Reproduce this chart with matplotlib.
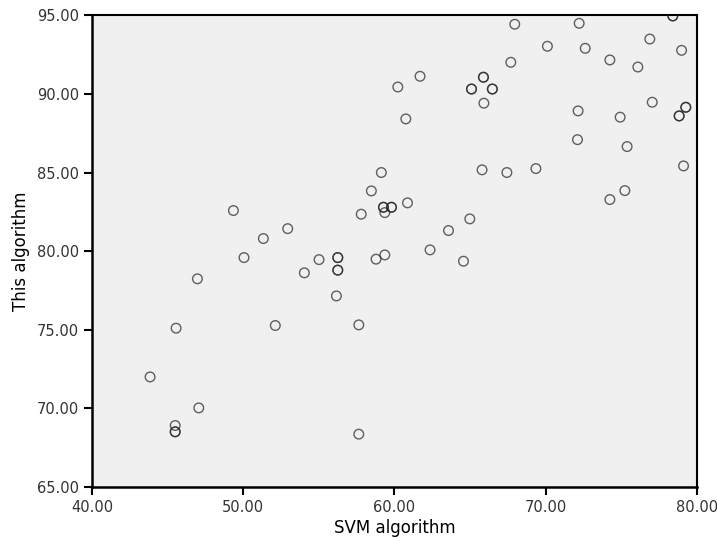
import matplotlib
matplotlib.use("Agg")
import matplotlib.pyplot as plt
from matplotlib.ticker import FormatStrFormatter

# SVM accuracy vs this algorithm's accuracy
svm = [43.84, 45.56, 46.97, 47.06, 45.50, 45.50, 45.50, 52.12, 54.04, 56.16,
       56.25, 56.25, 56.25, 56.25, 49.35, 50.05, 51.33, 52.94, 55.01, 57.64,
       57.64, 57.80, 58.47, 59.13, 59.27, 59.27, 59.80, 59.80, 59.36, 60.86,
       58.78, 59.36, 62.35, 63.57, 64.98, 64.56, 60.22, 61.69, 60.75, 65.09,
       65.09, 65.88, 65.88, 66.47, 66.47, 65.91, 65.79, 67.43, 69.35, 67.69,
       67.95, 70.11, 72.21, 72.61, 72.14, 72.10, 74.24, 76.09, 76.88, 78.40,
       78.40, 78.98, 77.04, 74.92, 79.26, 79.26, 78.82, 78.82, 75.38, 79.11,
       75.23, 74.24]
ours = [72.00, 75.10, 78.24, 70.03, 68.91, 68.51, 68.51, 75.27, 78.62, 77.15,
        78.79, 78.79, 79.59, 79.59, 82.58, 79.59, 80.80, 81.43, 79.46, 75.31,
        68.36, 82.35, 83.83, 85.00, 82.79, 82.79, 82.79, 82.79, 82.45, 83.07,
        79.49, 79.76, 80.08, 81.31, 82.05, 79.36, 90.44, 91.12, 88.41, 90.31,
        90.31, 91.06, 91.06, 90.31, 90.31, 89.41, 85.17, 85.00, 85.25, 92.01,
        94.43, 93.03, 94.49, 92.90, 88.92, 87.09, 92.16, 91.71, 93.49, 94.96,
        94.96, 92.77, 89.47, 88.52, 89.15, 89.15, 88.60, 88.60, 86.65, 85.42,
        83.85, 83.28]

xticks = [40, 50, 60, 70, 80]
yticks = [65, 70, 75, 80, 85, 90, 95]

fig = plt.figure(figsize=(7.17, 5.42), dpi=100)
ax = fig.add_axes([0.1283, 0.1015, 0.8438, 0.8703])
ax.set_facecolor("#f0f0f0")

ax.scatter(svm, ours, s=48, facecolors="none", edgecolors="#222222",
           linewidths=1.0, alpha=0.7, zorder=3)

ax.set_xlim(40, 80)
ax.set_ylim(65, 95)
ax.set_xticks(xticks)
ax.set_yticks(yticks)
ax.xaxis.set_major_formatter(FormatStrFormatter("%.2f"))
ax.yaxis.set_major_formatter(FormatStrFormatter("%.2f"))
ax.tick_params(direction="out", length=6, width=1.5, labelsize=10.5,
               colors="black", labelcolor="#333333")

for side in ["left", "bottom"]:
    ax.spines[side].set_linewidth(1.8)
for side in ["top", "right"]:
    ax.spines[side].set_linewidth(1.5)

ax.set_xlabel("SVM algorithm", fontsize=12, labelpad=3)
ax.set_ylabel("This algorithm", fontsize=12, labelpad=5)

fig.savefig("out.png", dpi=100)
